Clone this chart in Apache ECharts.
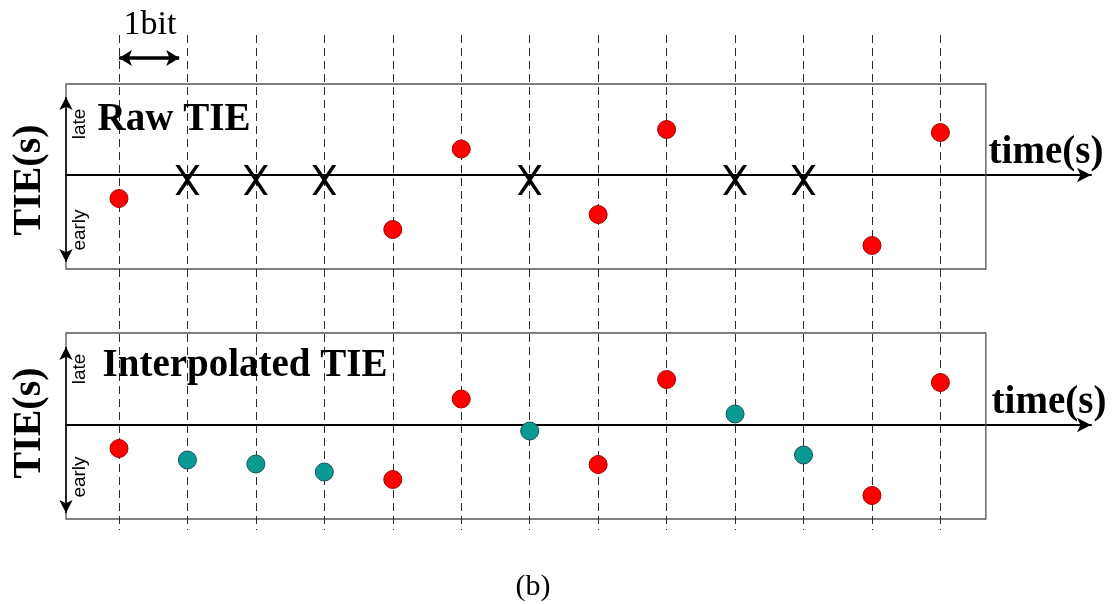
<!DOCTYPE html>
<html>
<head>
<meta charset="utf-8">
<script src="https://cdn.jsdelivr.net/npm/echarts@6/dist/echarts.min.js"></script>
<style>
  html, body { margin: 0; padding: 0; background: #fff; }
  #chart { width: 1113px; height: 604px; }
</style>
</head>
<body>
<div id="chart"></div>
<script>
// Bit slots on the time axis (one dashed line per bit)
const bitSlots = [0, 1, 2, 3, 4, 5, 6, 7, 8, 9, 10, 11, 12];
// Bits where an edge was seen and TIE was measured (late > 0, early < 0)
const sampledBits = [0, 4, 5, 7, 8, 11, 12];
const sampledTie = [-0.235, -0.545, 0.26, -0.395, 0.455, -0.705, 0.425];
// Bits with no transition (no TIE measured)
const missingBits = [1, 2, 3, 6, 9, 10];
// TIE filled in for the missing bits
const interpolatedTie = [-0.35, -0.39, -0.47, -0.06, 0.11, -0.30];

// Shared time scale for both panels
const xMin = -0.774, xMax = 14.2, boxRight = 12.664;
const panels = [
  { top: 84, height: 185, yMin: -0.94, yMax: 0.91, arrowTop: 0.78, arrowBottom: -0.87 },
  { top: 333, height: 186, yMin: -0.94, yMax: 0.92, arrowTop: 0.78, arrowBottom: -0.88 }
];

const serif = '"Liberation Serif", "Times New Roman", serif';
const sans = '"Liberation Sans", Arial, sans-serif';
const xShape = 'path://M0,0 L4,0 L12,11.6 L20,0 L24,0 L14,15 L24,30 L20,30 L12,18.4 L4,30 L0,30 L10,15 Z';

const redStyle = { color: '#ff0000', borderColor: '#a00000', borderWidth: 1, opacity: 1 };
const tealStyle = { color: '#0a9a94', borderColor: '#17505a', borderWidth: 1, opacity: 1 };

const grids = panels.map(p => ({ left: 66, width: 1025, top: p.top, height: p.height, show: false }));
grids.push({ left: 66, width: 1025, top: 35, height: 495, show: false });

const xAxes = panels.map((p, i) => ({
  type: 'value', gridIndex: i, min: xMin, max: xMax,
  axisLine: { show: true, onZero: true, symbol: ['none', 'arrow'], symbolSize: [11, 14],
    lineStyle: { color: '#000', width: 2 } },
  axisTick: { show: false }, axisLabel: { show: false }, splitLine: { show: false }
}));
xAxes.push({ type: 'value', gridIndex: 2, min: xMin, max: xMax, show: false });

const yAxes = panels.map((p, i) => ({
  type: 'value', gridIndex: i, min: p.yMin, max: p.yMax, show: false
}));
yAxes.push({ type: 'value', gridIndex: 2, min: 0, max: 495, inverse: true, show: false });

function panelFrame(p, i) {
  return {
    type: 'scatter', xAxisIndex: i, yAxisIndex: i, data: [], clip: false, silent: true, z: 1,
    markArea: {
      silent: true, z: 1,
      itemStyle: { color: 'rgba(0,0,0,0)', borderColor: '#555', borderWidth: 1.3 },
      data: [[{ xAxis: xMin, yAxis: p.yMin }, { xAxis: boxRight, yAxis: p.yMax }]]
    },
    markLine: {
      silent: true, z: 3, symbol: ['arrow', 'arrow'], symbolSize: [10, 13],
      lineStyle: { color: '#000', width: 1.5, type: 'solid' }, label: { show: false },
      data: [[{ coord: [xMin, p.arrowTop] }, { coord: [xMin, p.arrowBottom] }]]
    }
  };
}

const series = [
  // dashed bit boundaries and the "1bit" span
  {
    type: 'scatter', xAxisIndex: 2, yAxisIndex: 2, symbol: 'none', z: 1,
    data: bitSlots.map(b => [b, 250]), silent: true,
    markLine: {
      silent: true, z: 1, symbol: 'none', label: { show: false },
      lineStyle: { color: '#2a2a2a', width: 1, type: [8, 5] },
      data: bitSlots.map(b => ({ xAxis: b }))
    }
  },
  {
    type: 'scatter', xAxisIndex: 2, yAxisIndex: 2, data: [], silent: true, clip: false, z: 2,
    markLine: {
      silent: true, z: 3, symbol: ['arrow', 'arrow'], symbolSize: [12, 13], label: { show: false },
      lineStyle: { color: '#000', width: 3.5, type: 'solid' },
      data: [[{ coord: [bitSlots[0], 23] }, { coord: [bitSlots[0] + 0.88, 23] }]]
    }
  },
  panelFrame(panels[0], 0),
  panelFrame(panels[1], 1),
  // Raw TIE
  {
    type: 'scatter', xAxisIndex: 0, yAxisIndex: 0, symbolSize: 18, z: 6, itemStyle: redStyle,
    data: sampledBits.map((b, k) => [b, sampledTie[k]])
  },
  {
    type: 'scatter', xAxisIndex: 0, yAxisIndex: 0, symbol: xShape, symbolSize: [24, 30],
    symbolOffset: [0, 5], z: 6, itemStyle: { color: '#000', opacity: 1 },
    data: missingBits.map(b => [b, 0])
  },
  // Interpolated TIE
  {
    type: 'scatter', xAxisIndex: 1, yAxisIndex: 1, symbolSize: 18, z: 6, itemStyle: redStyle,
    data: sampledBits.map((b, k) => [b, sampledTie[k]])
  },
  {
    type: 'scatter', xAxisIndex: 1, yAxisIndex: 1, symbolSize: 18, z: 6, itemStyle: tealStyle,
    data: missingBits.map((b, k) => [b, interpolatedTie[k]])
  }
];

function txt(text, x, y, font, rot) {
  return {
    type: 'text', x: x, y: y, rotation: rot || 0, z: 10, silent: true,
    style: { text: text, font: font, fill: '#000', align: 'center', verticalAlign: 'middle' }
  };
}

const graphic = [
  txt('1bit', 150, 25, 'normal 34px ' + serif),
  txt('Raw TIE', 174, 120, 'bold 39px ' + serif),
  txt('Interpolated TIE', 245, 366, 'bold 39px ' + serif),
  txt('time(s)', 1046, 153, 'bold 39px ' + serif),
  txt('time(s)', 1049, 403, 'bold 39px ' + serif),
  txt('TIE(s)', 30, 180, 'bold 40px ' + serif, Math.PI / 2),
  txt('TIE(s)', 30, 423, 'bold 40px ' + serif, Math.PI / 2),
  txt('late', 80, 124, 'normal 19px ' + sans, Math.PI / 2),
  txt('early', 80, 230, 'normal 19px ' + sans, Math.PI / 2),
  txt('late', 80, 369, 'normal 19px ' + sans, Math.PI / 2),
  txt('early', 80, 477, 'normal 19px ' + sans, Math.PI / 2),
  txt('(b)', 533, 587, 'normal 30px ' + serif)
];

const chart = echarts.init(document.getElementById('chart'), null, { renderer: 'canvas' });
chart.setOption({
  animation: false,
  backgroundColor: '#fff',
  grid: grids,
  xAxis: xAxes,
  yAxis: yAxes,
  series: series,
  graphic: graphic
});
</script>
</body>
</html>
